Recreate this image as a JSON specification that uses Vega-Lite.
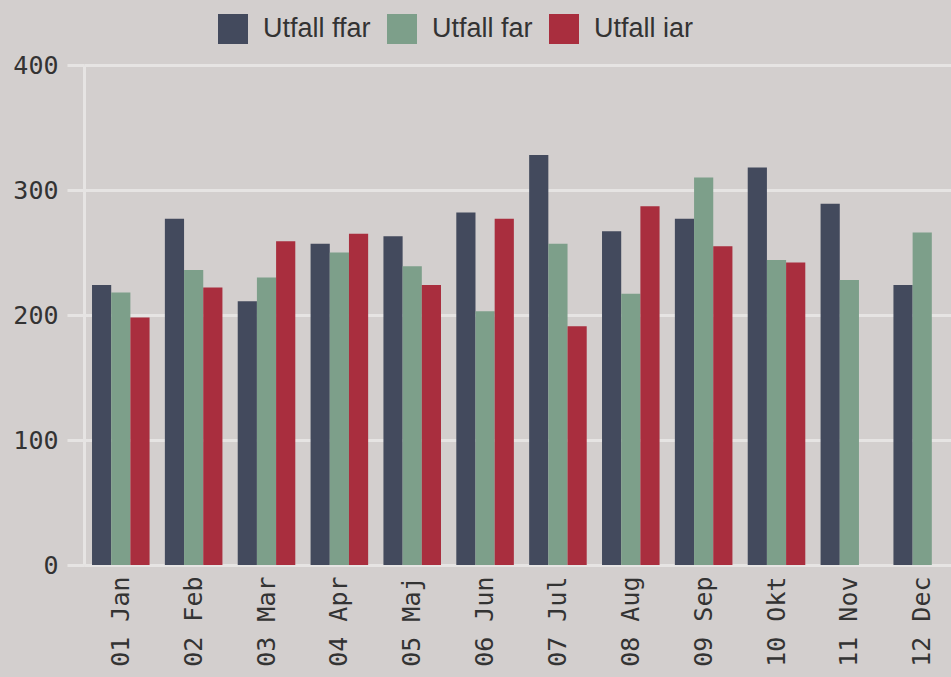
{
  "$schema": "https://vega.github.io/schema/vega-lite/v6.json",
  "width": 867,
  "height": 500,
  "autosize": {"type": "none"},
  "padding": {"left": 84, "top": 65, "right": 0, "bottom": 112},
  "background": "#d3cfce",
  "config": {
    "view": {"stroke": null},
    "axis": {
      "labelFont": "DejaVu Sans Mono",
      "labelFontSize": 25,
      "labelColor": "#333333",
      "domainColor": "#e6e4e3",
      "domainWidth": 3,
      "tickColor": "#e6e4e3",
      "tickWidth": 3,
      "gridColor": "#e6e4e3",
      "gridWidth": 3,
      "gridOpacity": 1,
      "title": null
    }
  },
  "data": {
    "values": [
      {"month": "01 Jan", "series": "Utfall ffar", "value": 224},
      {"month": "01 Jan", "series": "Utfall far", "value": 218},
      {"month": "01 Jan", "series": "Utfall iar", "value": 198},
      {"month": "02 Feb", "series": "Utfall ffar", "value": 277},
      {"month": "02 Feb", "series": "Utfall far", "value": 236},
      {"month": "02 Feb", "series": "Utfall iar", "value": 222},
      {"month": "03 Mar", "series": "Utfall ffar", "value": 211},
      {"month": "03 Mar", "series": "Utfall far", "value": 230},
      {"month": "03 Mar", "series": "Utfall iar", "value": 259},
      {"month": "04 Apr", "series": "Utfall ffar", "value": 257},
      {"month": "04 Apr", "series": "Utfall far", "value": 250},
      {"month": "04 Apr", "series": "Utfall iar", "value": 265},
      {"month": "05 Maj", "series": "Utfall ffar", "value": 263},
      {"month": "05 Maj", "series": "Utfall far", "value": 239},
      {"month": "05 Maj", "series": "Utfall iar", "value": 224},
      {"month": "06 Jun", "series": "Utfall ffar", "value": 282},
      {"month": "06 Jun", "series": "Utfall far", "value": 203},
      {"month": "06 Jun", "series": "Utfall iar", "value": 277},
      {"month": "07 Jul", "series": "Utfall ffar", "value": 328},
      {"month": "07 Jul", "series": "Utfall far", "value": 257},
      {"month": "07 Jul", "series": "Utfall iar", "value": 191},
      {"month": "08 Aug", "series": "Utfall ffar", "value": 267},
      {"month": "08 Aug", "series": "Utfall far", "value": 217},
      {"month": "08 Aug", "series": "Utfall iar", "value": 287},
      {"month": "09 Sep", "series": "Utfall ffar", "value": 277},
      {"month": "09 Sep", "series": "Utfall far", "value": 310},
      {"month": "09 Sep", "series": "Utfall iar", "value": 255},
      {"month": "10 Okt", "series": "Utfall ffar", "value": 318},
      {"month": "10 Okt", "series": "Utfall far", "value": 244},
      {"month": "10 Okt", "series": "Utfall iar", "value": 242},
      {"month": "11 Nov", "series": "Utfall ffar", "value": 289},
      {"month": "11 Nov", "series": "Utfall far", "value": 228},
      {"month": "12 Dec", "series": "Utfall ffar", "value": 224},
      {"month": "12 Dec", "series": "Utfall far", "value": 266}
    ]
  },
  "mark": {"type": "bar"},
  "encoding": {
    "x": {
      "field": "month",
      "type": "nominal",
      "sort": null,
      "scale": {"paddingInner": 0.21, "paddingOuter": 0.055, "align": 1},
      "axis": {"labelAngle": -90, "ticks": false, "labelPadding": 11, "grid": false}
    },
    "xOffset": {
      "field": "series",
      "type": "nominal",
      "sort": ["Utfall ffar", "Utfall far", "Utfall iar"],
      "scale": {"paddingInner": 0, "paddingOuter": 0}
    },
    "y": {
      "field": "value",
      "type": "quantitative",
      "scale": {"domain": [0, 400]},
      "axis": {"values": [0, 100, 200, 300, 400], "tickSize": 17, "labelPadding": 9, "grid": true}
    },
    "color": {
      "field": "series",
      "type": "nominal",
      "sort": ["Utfall ffar", "Utfall far", "Utfall iar"],
      "scale": {
        "domain": ["Utfall ffar", "Utfall far", "Utfall iar"],
        "range": ["#434a5d", "#7d9f8a", "#a92e3e"]
      },
      "legend": {
        "title": null,
        "orient": "none",
        "direction": "horizontal",
        "legendX": 134,
        "legendY": -51,
        "symbolType": "square",
        "symbolSize": 900,
        "symbolStrokeWidth": 0,
        "symbolOpacity": 1,
        "labelFont": "Liberation Sans",
        "labelFontSize": 27,
        "labelColor": "#333333",
        "labelOffset": 15,
        "columnPadding": 16,
        "labelLimit": 400
      }
    }
  }
}
